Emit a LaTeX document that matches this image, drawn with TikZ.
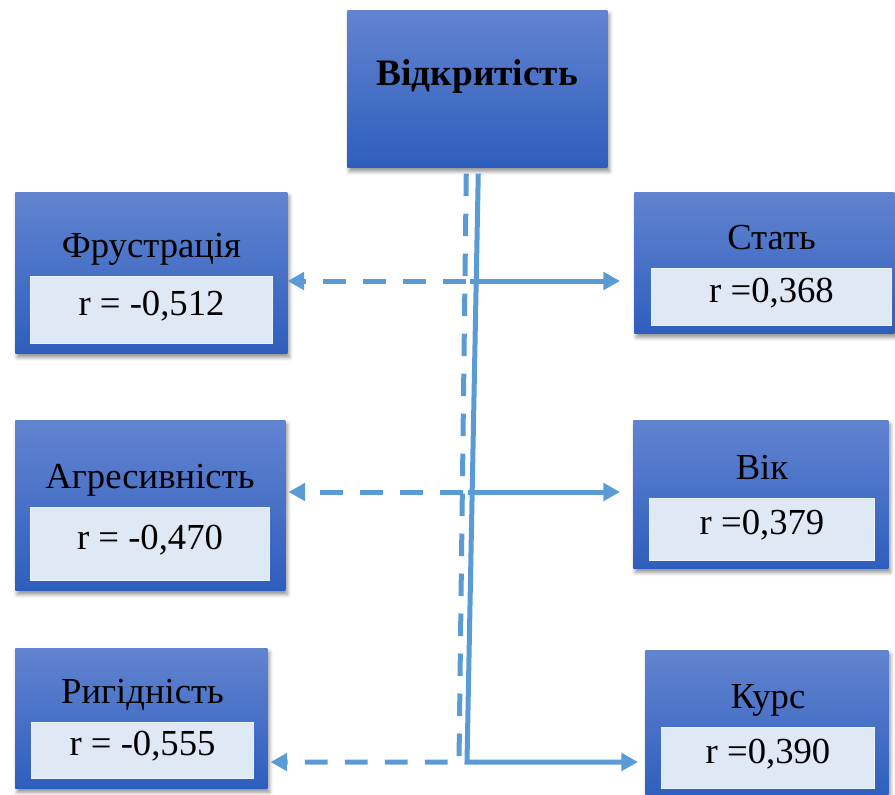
\documentclass[tikz,border=0pt]{standalone}
\usepackage{fontspec}
\setmainfont{Liberation Serif}
\usetikzlibrary{positioning,arrows.meta,shadows.blur}
\definecolor{boxtop}{RGB}{98,132,208}
\definecolor{boxbot}{RGB}{46,94,189}
\definecolor{valfill}{RGB}{222,233,245}
\definecolor{valedge}{RGB}{236,242,250}
\definecolor{linkblue}{RGB}{91,155,213}

\begin{document}
\begin{tikzpicture}[x=0.75pt,y=-0.75pt,
  box/.style={anchor=north west,inner sep=0pt,top color=boxtop,bottom color=boxbot,
    blur shadow={shadow xshift=1.5pt,shadow yshift=-3pt,shadow blur radius=3pt,shadow opacity=45}},
  valbox/.style={anchor=north west,inner sep=0pt,fill=valfill,draw=valedge,line width=0.75pt,
    text height=8pt,text depth=0pt,font=\fontsize{27.5}{30}\selectfont},
  ttl/.style={inner sep=0pt,text depth=0pt,font=\fontsize{27.5}{30}\selectfont},
  link/.style={draw=linkblue,line width=3.75pt},
  dlink/.style={link,dash pattern=on 17pt off 13pt},
  arr/.style={-{Triangle[length=12.5pt,width=13pt]}}]
  \useasboundingbox (0,0) rectangle (895,795);

  \node[box,minimum width=195pt,minimum height=117.75pt,text height=0pt,text depth=5pt,
    font=\fontsize{28}{32}\selectfont\bfseries] (top) at (347,10) {Відкритість};

  \node[box,minimum width=204pt,minimum height=120.75pt] (fru) at (15,192) {};
  \node[valbox,minimum width=181.5pt,minimum height=50.25pt] (fruv) at (30,276) {r = -0,512};
  \node[ttl,above=13.5pt of fruv] (frut) {Фрустрація};

  \node[box,minimum width=202.5pt,minimum height=127.5pt] (agr) at (15,420) {};
  \node[valbox,minimum width=179.25pt,minimum height=54.75pt] (agrv) at (30,507) {r = -0,470};
  \node[ttl,above=13.5pt of agrv] (agrt) {Агресивність};

  \node[box,minimum width=189pt,minimum height=105pt] (rig) at (15,648) {};
  \node[valbox,minimum width=166.5pt,minimum height=42pt] (rigv) at (31,722) {r = -0,555};
  \node[ttl,above=13.5pt of rigv] (rigt) {Ригідність};

  \node[box,minimum width=195pt,minimum height=105.75pt] (stat) at (634,192) {};
  \node[valbox,minimum width=180pt,minimum height=42.75pt] (statv) at (651,268) {r =0,368};
  \node[ttl,above=13.5pt of statv] (statt) {Стать};

  \node[box,minimum width=191.25pt,minimum height=111pt] (vik) at (633,420) {};
  \node[valbox,minimum width=168.75pt,minimum height=46.5pt] (vikv) at (649,498) {r =0,379};
  \node[ttl,above=13.5pt of vikv] (vikt) {Вік};

  \node[box,minimum width=182.25pt,minimum height=112.5pt] (kurs) at (645,650) {};
  \node[valbox,minimum width=159.75pt,minimum height=45.75pt] (kursv) at (661,727) {r =0,390};
  \node[ttl,above=13.5pt of kursv] (kurst) {Курс};

  \coordinate (d1) at (466,281); \coordinate (d2) at (463,492); \coordinate (d3) at (459,762);
  \coordinate (s1) at (470,281); \coordinate (s2) at (468,492); \coordinate (s3) at (467,762);

  \draw[dlink,arr,shorten >=2.25pt] ([xshift=-8.25pt,yshift=-4.5pt]top.south) -- (d3) -- (d3 -| rig.east);
  \draw[link,arr,shorten >=5.25pt] ([xshift=0.75pt,yshift=-4.5pt]top.south) -- (s3) -- (s3 -| kurs.west);
  \draw[dlink,arr] (d1) -- (d1 -| fru.east);
  \draw[dlink,arr,shorten >=2.25pt] (d2) -- (d2 -| agr.east);
  \draw[link,arr,shorten >=10.5pt] (s1) -- (s1 -| stat.west);
  \draw[link,arr,shorten >=9.75pt] (s2) -- (s2 -| vik.west);
\end{tikzpicture}
\end{document}
